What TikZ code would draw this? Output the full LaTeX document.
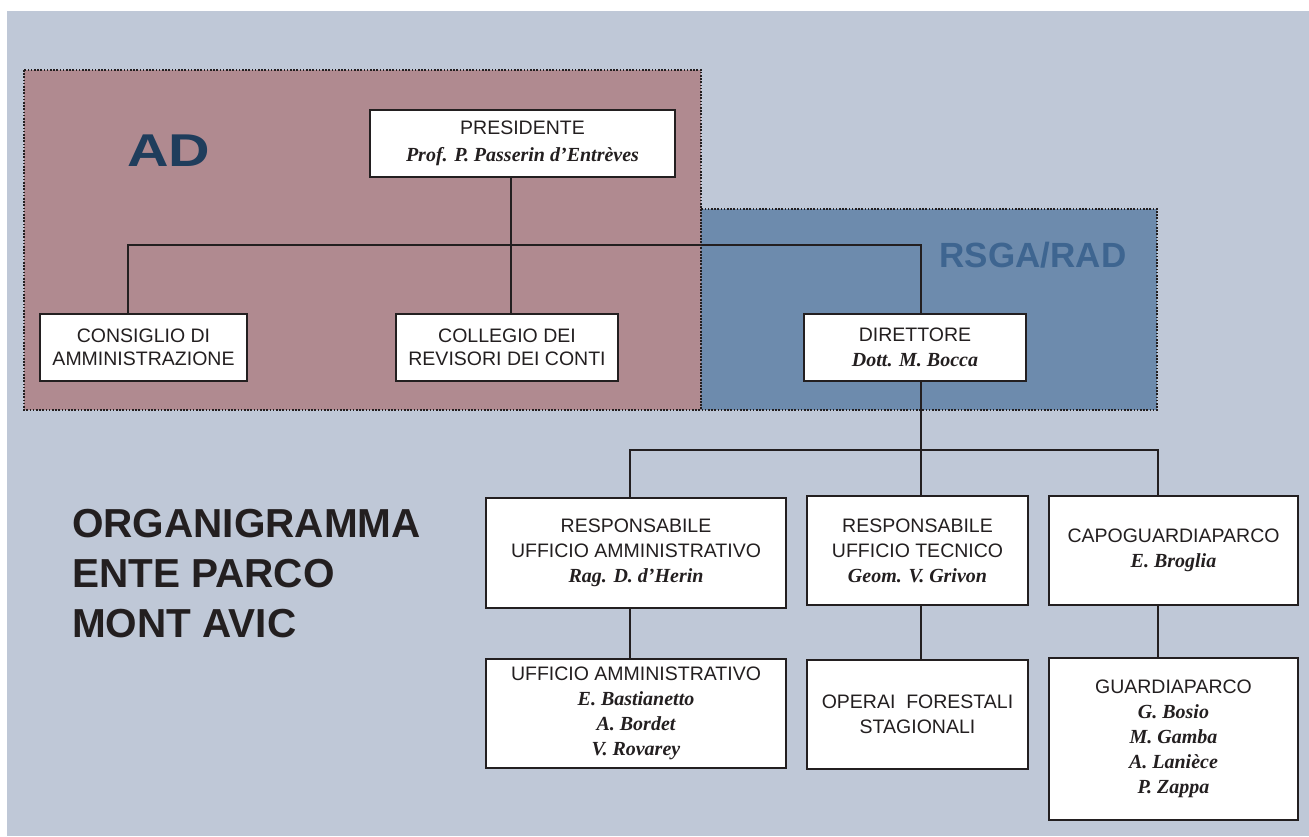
\documentclass[tikz,border=0pt]{standalone}
\usepackage{fontspec}
\setmainfont{Liberation Sans}
\newfontfamily\namefont{Liberation Serif}
\newcommand\pname[1]{{\namefont\bfseries\itshape\fontsize{20}{25}\selectfont #1}}
\definecolor{bg}{HTML}{BFC8D7}
\definecolor{adfill}{HTML}{B08A90}
\definecolor{rsfill}{HTML}{6D8BAD}
\definecolor{adtext}{HTML}{1F3D5C}
\definecolor{rstext}{HTML}{3E6590}
\definecolor{ink}{HTML}{231F20}
\begin{document}
\begin{tikzpicture}[x=1pt,y=-1pt,
  box/.style={draw=ink, line width=2pt, fill=white, inner sep=0pt, align=center,
    font=\fontsize{19.5}{25}\selectfont, text=ink},
  conn/.style={draw=ink, line width=2.5pt},
  zone/.style={draw=ink, line width=1.6pt, dash pattern=on 1.6pt off 1.6pt},
  title/.style={anchor=base west, inner sep=0pt, text=ink, font=\fontsize{40.5}{40.5}\selectfont\bfseries}]
\fill[white] (0,0) rectangle (1309,836);
\useasboundingbox (0,0) rectangle (1309,836);
\fill[bg] (7,11) rectangle (1309,836);
\fill[adfill] (24,70) rectangle (701,410);
\fill[rsfill] (701,209) rectangle (1157,410);
\draw[zone] (24,70) rectangle (701,410);
\draw[zone] (701,209) rectangle (1157,410);

\node[text=adtext, font=\fontsize{46}{46}\selectfont\bfseries] (ad) at (169,151) {\scalebox{1.25}[1]{AD}};
\node[text=rstext, font=\fontsize{35}{35}\selectfont\bfseries] (rs) at (1033,255.5) {RSGA/RAD};

\node[title] (t1) at (72,537) {ORGANIGRAMMA};
\node[title] (t2) at (72,587) {ENTE PARCO};
\node[title] (t3) at (72,637) {MONT AVIC};

\node[box, minimum width=305, minimum height=67] (pres) at (522.5,143.5) {PRESIDENTE\\[2pt]\pname{Prof. P. Passerin d’Entrèves}};
\node[box, minimum width=207, minimum height=67] (cons) at (143.5,347.5) {CONSIGLIO DI\\[-2pt]AMMINISTRAZIONE};
\node[box, minimum width=222, minimum height=67] (coll) at (507,347.5) {COLLEGIO DEI\\[-2pt]REVISORI DEI CONTI};
\node[box, minimum width=222, minimum height=67] (dir) at (915,347.5) {DIRETTORE\\\pname{Dott. M. Bocca}};

\node[box, minimum width=300, minimum height=110] (rua) at (636,553) {RESPONSABILE\\UFFICIO AMMINISTRATIVO\\\pname{Rag. D. d’Herin}};
\node[box, minimum width=221, minimum height=109] (rut) at (917.5,550.5) {RESPONSABILE\\UFFICIO TECNICO\\\pname{Geom. V. Grivon}};
\node[box, minimum width=249, minimum height=109] (cap) at (1173.5,550.5) {CAPOGUARDIAPARCO\\\pname{E. Broglia}};

\node[box, minimum width=300, minimum height=109] (ua) at (636,713.5) {UFFICIO AMMINISTRATIVO\\\pname{E. Bastianetto}\\\pname{A. Bordet}\\\pname{V. Rovarey}};
\node[box, minimum width=221, minimum height=109] (op) at (917.5,714.5) {OPERAI\ \ FORESTALI\\STAGIONALI};
\node[box, minimum width=249, minimum height=162] (gp) at (1173.5,739) {GUARDIAPARCO\\\pname{G. Bosio}\\\pname{M. Gamba}\\\pname{A. Lanièce}\\\pname{P. Zappa}};

\coordinate (hl) at (128,245);
\coordinate (hp) at (511,245);
\coordinate (hr) at (921,245);
\draw[conn] (pres.south -| hp) -- (coll.north -| hp);
\draw[conn] (cons.north -| hl) -- (hl) -- (hr) -- (dir.north -| hr);

\coordinate (ll) at (630,450);
\coordinate (lm) at (921,450);
\coordinate (lr) at (1158,450);
\draw[conn] (dir.south -| lm) -- (lm);
\draw[conn] (rua.north -| ll) -- (ll) -- (lr) -- (cap.north -| lr);
\draw[conn] (lm) -- (rut.north -| lm);
\draw[conn] (rua.south -| ll) -- (ua.north -| ll);
\draw[conn] (rut.south -| lm) -- (op.north -| lm);
\draw[conn] (cap.south -| lr) -- (gp.north -| lr);
\end{tikzpicture}
\end{document}
